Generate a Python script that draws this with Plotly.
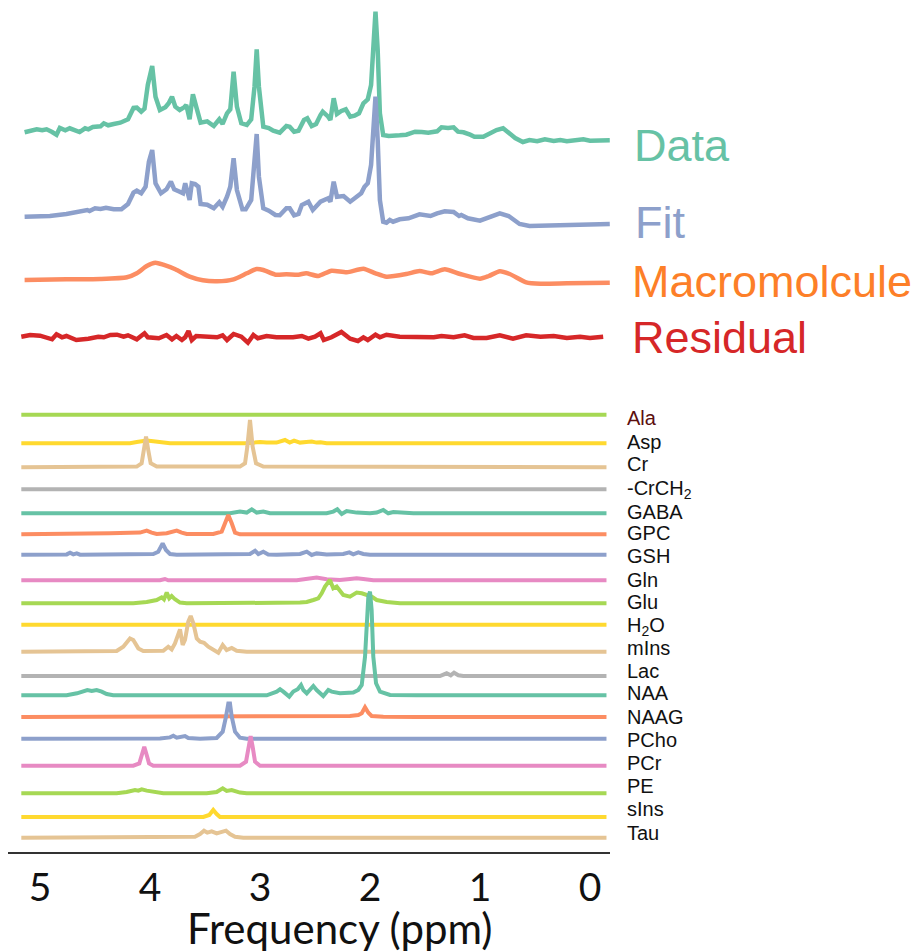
import plotly.graph_objects as go

# ---------------- data (ppm, amplitude above each trace's baseline) ----------------
data_ppm = [5.14, 5.08, 5.03, 4.98, 4.94, 4.89, 4.85, 4.82, 4.77, 4.73, 4.68, 4.64, 4.59, 4.56, 4.52, 4.45,
            4.42, 4.38, 4.33, 4.27, 4.20, 4.15, 4.12, 4.08, 4.05, 4.02, 3.98, 3.95, 3.91, 3.86, 3.83, 3.80,
            3.77, 3.73, 3.69, 3.67, 3.64, 3.61, 3.58, 3.54, 3.48, 3.42, 3.37, 3.34, 3.30, 3.27, 3.24, 3.21,
            3.17, 3.12, 3.08, 3.05, 3.03, 3.01, 2.97, 2.92, 2.88, 2.82, 2.76, 2.73, 2.69, 2.65, 2.60, 2.57,
            2.53, 2.49, 2.45, 2.43, 2.38, 2.36, 2.33, 2.30, 2.26, 2.22, 2.18, 2.14, 2.10, 2.06, 2.02, 1.99,
            1.95, 1.93, 1.91, 1.88, 1.83, 1.79, 1.73, 1.67, 1.59, 1.53, 1.47, 1.39, 1.35, 1.29, 1.24, 1.20,
            1.15, 1.09, 1.05, 0.97, 0.91, 0.85, 0.79, 0.76, 0.68, 0.61, 0.55, 0.48, 0.41, 0.33, 0.27, 0.21,
            0.14, 0.06, 0.00, -0.09, -0.18]
data_amp = [7.7, 9.3, 10.7, 9.7, 10.7, 8.0, 5.3, 12.0, 9.7, 11.7, 9.0, 8.0, 11.7, 10.7, 13.0, 13.7,
            16.7, 14.7, 16.0, 17.3, 20.7, 32.0, 32.3, 28.3, 31.3, 55.0, 74.0, 43.3, 30.0, 32.7, 36.7, 43.3,
            33.3, 30.0, 32.7, 35.0, 20.7, 45.7, 33.3, 17.3, 18.7, 14.0, 20.7, 16.0, 26.7, 30.7, 68.3, 33.3,
            16.7, 15.0, 20.7, 53.3, 90.7, 53.3, 13.3, 12.0, 9.3, 7.3, 14.0, 13.3, 8.3, 9.3, 20.0, 21.7,
            14.0, 16.0, 25.0, 28.3, 23.3, 20.0, 41.7, 26.0, 29.0, 30.7, 23.3, 24.3, 26.7, 36.7, 40.7, 55.0,
            128.3, 90.0, 26.7, 5.0, 4.0, 4.7, 4.7, 5.3, 8.3, 8.0, 7.3, 8.7, 12.7, 12.0, 12.7, 8.3,
            7.7, 5.3, 3.3, 3.3, 7.3, 10.0, 11.7, 9.3, 2.0, -2.0, 0.0, -1.3, 0.7, -1.0, 0.0, -1.3,
            0.0, 0.7, -0.7, 0.0, -0.3]

fit_ppm = [5.14, 4.91, 4.76, 4.64, 4.57, 4.55, 4.50, 4.45, 4.40, 4.33, 4.26, 4.20, 4.15, 4.12, 4.08, 4.04,
           4.01, 3.98, 3.95, 3.90, 3.85, 3.81, 3.78, 3.73, 3.70, 3.68, 3.66, 3.64, 3.62, 3.59, 3.56, 3.54,
           3.48, 3.42, 3.37, 3.34, 3.30, 3.27, 3.24, 3.21, 3.16, 3.13, 3.08, 3.06, 3.03, 3.01, 2.97, 2.92,
           2.86, 2.82, 2.76, 2.73, 2.69, 2.65, 2.62, 2.56, 2.52, 2.45, 2.38, 2.36, 2.33, 2.30, 2.24, 2.18,
           2.12, 2.08, 2.05, 2.02, 1.99, 1.95, 1.93, 1.91, 1.88, 1.85, 1.82, 1.79, 1.73, 1.65, 1.55, 1.45,
           1.39, 1.32, 1.24, 1.19, 1.17, 1.11, 1.00, 0.91, 0.82, 0.74, 0.64, 0.55, 0.33, 0.06, -0.18]
fit_amp = [7.3, 8.0, 10.0, 12.3, 14.0, 13.0, 15.7, 15.0, 16.3, 14.7, 14.7, 20.0, 31.3, 33.3, 30.7, 37.3,
           62.3, 74.0, 40.7, 30.7, 34.7, 42.3, 34.7, 32.3, 30.7, 40.7, 32.3, 24.0, 40.7, 40.0, 37.3, 20.0,
           19.3, 15.7, 21.7, 17.3, 27.3, 37.3, 65.7, 34.0, 14.7, 14.7, 24.0, 50.7, 90.0, 47.3, 15.7, 13.3,
           9.0, 8.7, 15.7, 15.7, 8.7, 10.0, 19.0, 22.3, 14.0, 22.3, 25.7, 22.3, 42.3, 27.3, 28.0, 22.3,
           28.0, 30.7, 37.3, 40.7, 59.0, 127.3, 84.0, 24.0, 2.3, 1.3, 4.0, 2.3, 4.7, 5.7, 9.7, 8.0,
           10.7, 12.7, 12.0, 8.0, 9.0, 5.7, 3.3, 6.7, 10.7, 8.0, 0.0, -2.0, -1.7, -0.3, 0.0]

mm_ppm = [5.14, 4.76, 4.45, 4.21, 4.12, 4.03, 3.95, 3.88, 3.77, 3.64, 3.52, 3.39, 3.24, 3.12, 3.03, 2.97,
          2.86, 2.76, 2.65, 2.58, 2.47, 2.35, 2.21, 2.06, 1.95, 1.85, 1.67, 1.55, 1.44, 1.32, 1.18, 1.00,
          0.92, 0.82, 0.73, 0.58, 0.45, 0.21, -0.18]
mm_amp = [3.0, 3.7, 4.0, 5.7, 9.7, 17.0, 20.3, 18.3, 13.7, 6.3, 2.7, 1.7, 3.7, 9.7, 14.0, 13.0,
          8.3, 8.7, 8.3, 9.7, 7.0, 12.3, 10.7, 14.3, 9.7, 6.3, 9.0, 12.0, 9.7, 13.7, 9.0, 4.3,
          7.0, 11.7, 9.0, 0.7, -0.7, -0.3, 0.3]

res_ppm = [5.17, 5.09, 5.00, 4.89, 4.85, 4.80, 4.76, 4.67, 4.56, 4.47, 4.42, 4.36, 4.30, 4.24, 4.20, 4.12,
           4.05, 4.02, 3.92, 3.85, 3.80, 3.76, 3.71, 3.68, 3.65, 3.62, 3.58, 3.48, 3.39, 3.34, 3.30, 3.24,
           3.17, 3.11, 3.06, 3.02, 2.94, 2.85, 2.76, 2.70, 2.62, 2.56, 2.50, 2.45, 2.42, 2.35, 2.26, 2.18,
           2.11, 2.06, 2.02, 1.95, 1.91, 1.85, 1.73, 1.58, 1.42, 1.35, 1.24, 1.14, 1.06, 0.94, 0.82, 0.70,
           0.58, 0.45, 0.33, 0.21, 0.09, 0.00, -0.12]
res_amp = [0.3, 2.0, 1.3, -2.3, 2.7, -0.3, 1.0, -3.0, -1.7, 0.3, -0.3, 2.0, 2.3, 0.3, 1.7, -2.3,
           3.7, -0.3, -1.3, 2.0, -2.3, 1.0, -3.0, -0.3, 6.0, -3.0, 1.0, 0.3, -0.3, 1.7, -3.0, 3.0,
           0.3, -5.7, 2.0, -1.3, 1.0, -0.3, -0.3, -0.3, 1.0, -1.7, 0.3, 3.7, -3.0, -0.3, 5.0, -1.7,
           -4.0, -0.3, -3.0, 2.3, -0.3, 2.3, 0.3, -0.3, -0.3, 1.0, -0.3, 1.7, -1.0, -1.0, 1.7, -1.7,
           1.7, 0.3, 1.0, -1.0, 0.3, -1.0, 0.3]

# ---------------- metabolite basis spectra ----------------
ala_ppm = [5.17, -0.15]
ala_amp = [0, 0]
asp_ppm = [5.17, 4.182, 4.12, 4.03, 3.970, 3.909, 3.818, 3.12, 3.00, 2.94, 2.85, 2.773, 2.73, 2.69, 2.636,
           2.58, 2.53, 2.485, 2.45, 2.394, -0.15]
asp_amp = [0, 0, 1.3, 2.7, 2.0, 1.0, 0, 0, 1.3, 0.7, 0.7, 3.3, 0.7, 2.7, 0.7,
           1.3, 1.7, 0.7, 1.0, 0, 0]
cr_ppm = [5.17, 4.121, 4.076, 4.055, 4.036, 4.016, 3.994, 3.939, 3.182, 3.136, 3.115, 3.091, 3.067, 3.036,
          2.970, -0.15]
cr_amp = [0, 0.7, 4.0, 17.3, 30.7, 17.3, 4.0, 0.7, 0.7, 4.0, 20.7, 47.3, 20.7, 4.0, 0.7, 0]
crch2_ppm = [5.17, -0.15]
crch2_amp = [0, 0]
gaba_ppm = [5.17, 3.273, 3.182, 3.121, 3.075, 3.030, 2.970, 2.909, 2.394, 2.334, 2.297, 2.257, 2.212, 2.121,
            2.000, 1.939, 1.879, 1.834, 1.788, 1.606, -0.15]
gaba_amp = [0, 0, 1.7, 0.7, 4.0, 0.7, 1.7, 0, 0, 1.7, 4.0, -0.7, 2.3, 0.7,
            0, 0.7, 3.3, 0, 1.3, 0, 0]
gpc_ppm = [5.17, 4.515, 4.364, 4.091, 4.030, 3.985, 3.939, 3.848, 3.757, 3.712, 3.666, 3.425, 3.348, 3.318,
           3.288, 3.257, 3.227, 3.182, -0.15]
gpc_amp = [0, 0.3, 1.0, 1.7, 3.7, 1.7, 0.3, 1.0, 3.7, 1.7, 0.3, 0.3, 2.7, 11.0,
           19.3, 11.0, 1.7, 0, 0]
gsh_ppm = [5.17, 4.909, 4.757, 4.727, 4.697, 4.666, 4.636, 3.970, 3.925, 3.885, 3.855, 3.818, 3.757, 3.091,
           3.045, 3.015, 2.970, 2.925, 2.848, 2.636, 2.575, 2.530, 2.485, 2.394, 2.243, 2.188, 2.152, 2.106,
           2.061, 2.000, -0.15]
gsh_amp = [0, 0.7, 0.3, 2.0, 0.3, 1.3, 0, 0.7, 3.0, 11.3, 4.7, 0.7, 0, 0.7,
           4.0, 0.7, 3.0, 0.3, 0, 0.7, 3.0, -0.3, 1.3, 0.3, 0.7, 2.3, 0.3, 2.3,
           0.7, 0, 0]
gln_ppm = [5.17, 3.909, 3.864, 3.834, 2.666, 2.545, 2.485, 2.394, 2.273, 2.182, 2.121, 2.061, 1.970, -0.15]
gln_amp = [0, 0, 1.3, 0, 0, 1.3, 2.7, 1.0, 0.3, 1.3, 2.0, 1.3, 0, 0]
glu_ppm = [5.17, 4.152, 4.030, 3.939, 3.894, 3.873, 3.848, 3.825, 3.803, 3.773, 3.727, 3.666, 2.636, 2.575,
           2.515, 2.470, 2.439, 2.409, 2.364, 2.334, 2.303, 2.243, 2.182, 2.121, 2.075, 2.015, 1.985, 1.939,
           1.848, 1.727, -0.15]
glu_amp = [0, 0, 1.3, 3.3, 6.0, 4.0, 10.7, 5.0, 7.3, 4.0, 0.7, 0, 0.7, 1.3,
           3.3, 5.0, 10.0, 16.7, 23.3, 15.0, 16.7, 8.3, 6.7, 10.7, 10.0, 8.3, 6.7, 3.3,
           1.3, 0, 0]
h2o_ppm = [5.17, -0.15]
h2o_amp = [0, 0]
mins_ppm = [5.17, 4.303, 4.243, 4.182, 4.152, 4.106, 4.061, 3.879, 3.834, 3.803, 3.773, 3.727, 3.703, 3.682,
            3.652, 3.630, 3.606, 3.575, 3.545, 3.509, 3.470, 3.425, 3.379, 3.339, 3.303, 3.257, 3.212, 3.121,
            -0.15]
mins_amp = [0, 0.7, 5.0, 13.3, 11.7, 3.3, 0.7, 1.0, 5.0, 2.3, 8.3, 22.3, 6.7, 11.7,
            30.0, 35.7, 28.3, 13.3, 10.0, 9.0, 5.0, 2.3, -1.0, 6.7, 1.7, 3.7, 1.0, 0,
            0]
lac_ppm = [5.17, 1.364, 1.303, 1.266, 1.236, 1.197, 1.152, -0.15]
lac_amp = [0, 0, 2.7, 0.7, 3.3, 0.7, 0, 0]
naa_ppm = [5.17, 4.758, 4.664, 4.606, 4.570, 4.530, 4.485, 4.439, 4.394, 4.334, 2.939, 2.848, 2.818, 2.788,
           2.757, 2.734, 2.697, 2.657, 2.627, 2.606, 2.575, 2.545, 2.515, 2.485, 2.455, 2.425, 2.379, 2.348,
           2.273, 2.152, 2.106, 2.075, 2.045, 2.030, 2.015, 2.000, 1.985, 1.970, 1.945, 1.909, 1.818, 1.575,
           -0.15]
naa_amp = [0, 0, 2.0, 3.7, 5.3, 4.3, 5.3, 3.7, 1.3, 0, 0, 3.7, 6.0, 3.7,
           0.3, -1.3, 3.7, 6.0, 10.3, 5.3, 2.0, 5.3, 9.3, 5.3, 2.7, -0.7, 5.3, 3.7,
           2.0, 2.7, 5.3, 10.3, 38.7, 72.0, 98.7, 103.7, 85.3, 38.7, 12.0, 3.7, 0.3, 0,
           0]
naag_ppm = [5.17, 2.334, 2.182, 2.106, 2.075, 2.045, 2.015, 1.985, 1.879, 1.575, -0.15]
naag_amp = [0, 0.3, 1.0, 2.0, 3.7, 9.7, 4.3, 1.0, 0.3, 0, 0]
pcho_ppm = [5.17, 4.606, 4.455, 4.303, 4.152, 3.909, 3.818, 3.788, 3.757, 3.712, 3.682, 3.652, 3.545, 3.394,
            3.339, 3.309, 3.288, 3.273, 3.257, 3.227, 3.182, 3.121, -0.15]
pcho_amp = [0, 0, 1.0, 0.7, 0, 0.3, 1.3, 3.0, 1.0, 2.0, 2.7, 0.7, 0, 0.7,
            7.0, 22.0, 35.3, 35.3, 22.0, 7.0, 1.0, 0, 0]
pcr_ppm = [5.17, 4.152, 4.097, 4.075, 4.052, 4.030, 4.009, 3.970, 3.182, 3.127, 3.106, 3.085, 3.067, 3.045,
           3.000, -0.15]
pcr_amp = [0, 0, 2.3, 10.7, 19.0, 10.7, 2.3, 0, 0, 4.0, 19.0, 29.7, 19.0, 4.0, 0, 0]
pe_ppm = [5.17, 4.303, 4.212, 4.136, 4.106, 4.075, 4.030, 3.970, 3.879, 3.485, 3.394, 3.339, 3.303, 3.257,
          3.227, 3.182, 3.121, -0.15]
pe_amp = [0, 0, 1.3, 3.3, 2.7, 4.0, 2.7, 1.3, 0, 0, 1.3, 5.0, 2.3, 3.3,
          2.0, 0.7, 0, 0]
sins_ppm = [5.17, 3.515, 3.461, 3.425, 3.394, 3.364, -0.15]
sins_amp = [0, 0, 2.0, 7.0, 3.0, 0, 0]
tau_ppm = [5.17, 3.666, 3.591, 3.545, 3.509, 3.479, 3.439, 3.394, 3.348, 3.309, 3.273, 3.227, 3.152, -0.15]
tau_amp = [0, 0, 1.0, 3.7, 7.0, 5.0, 6.3, 4.3, 6.3, 7.0, 3.7, 1.0, 0, 0]

top_names = ["Data", "Fit", "Macromolcule", "Residual"]
met_names = ["Ala", "Asp", "Cr", "-CrCH<sub>2</sub>", "GABA", "GPC", "GSH", "Gln", "Glu", "H<sub>2</sub>O",
             "mIns", "Lac", "NAA", "NAAG", "PCho", "PCr", "PE", "sIns", "Tau"]
x_ticks = [5, 4, 3, 2, 1, 0]
x_title = "Frequency (ppm)"

# ---------------- layout / style (not data) ----------------
top_series = [(data_ppm, data_amp), (fit_ppm, fit_amp), (mm_ppm, mm_amp), (res_ppm, res_amp)]
met_series = [(ala_ppm, ala_amp), (asp_ppm, asp_amp), (cr_ppm, cr_amp), (crch2_ppm, crch2_amp),
              (gaba_ppm, gaba_amp), (gpc_ppm, gpc_amp), (gsh_ppm, gsh_amp), (gln_ppm, gln_amp),
              (glu_ppm, glu_amp), (h2o_ppm, h2o_amp), (mins_ppm, mins_amp), (lac_ppm, lac_amp),
              (naa_ppm, naa_amp), (naag_ppm, naag_amp), (pcho_ppm, pcho_amp), (pcr_ppm, pcr_amp),
              (pe_ppm, pe_amp), (sins_ppm, sins_amp), (tau_ppm, tau_amp)]

top_base = [140, 224, 283, 337]
top_line_colors = ["#66c2a5", "#8da0cb", "#fc8d62", "#d62728"]
top_text_colors = ["#66c2a5", "#8da0cb", "#fd7f28", "#d62728"]
top_shapes = ["linear", "linear", "spline", "linear"]
top_label_y = [145, 222, 281, 337]
top_label_x = [632, 633, 630, 630]

met_base = [414.7, 443.3, 467.3, 489.3, 513.3, 534.3, 554.7, 580.3, 603.3, 624.7,
            651.7, 676, 695.3, 717, 738.7, 765.7, 793.3, 817, 837.7]
set2 = ["#a6d854", "#ffd92f", "#e5c494", "#b3b3b3", "#66c2a5", "#fc8d62", "#8da0cb", "#e78ac3"]
met_colors = [set2[i % 8] for i in range(19)]
met_label_y = [418, 441.5, 464, 489, 511.5, 533, 556, 579.5, 602, 626,
               648, 670.5, 693, 716.5, 740, 763, 786, 809, 833]

PLOT_L, PLOT_R, PLOT_B = 8, 610, 852
W, H = 916, 951

fig = go.Figure()
for (px, amp), b, c, sh in zip(top_series, top_base, top_line_colors, top_shapes):
    fig.add_trace(go.Scatter(x=px, y=[-b + a for a in amp], mode="lines",
                             line=dict(color=c, width=4.5, shape=sh, smoothing=0.6),
                             hoverinfo="skip", showlegend=False))
for (px, amp), b, c in zip(met_series, met_base, met_colors):
    fig.add_trace(go.Scatter(x=px, y=[-b + a for a in amp], mode="lines",
                             line=dict(color=c, width=4), hoverinfo="skip", showlegend=False))


def paper_x(px):
    return (px - PLOT_L) / (PLOT_R - PLOT_L)


def paper_y(py):
    return (PLOT_B - py) / PLOT_B


annotations = []
for name, yy, xx, c in zip(top_names, top_label_y, top_label_x, top_text_colors):
    annotations.append(dict(text=name, x=paper_x(xx), xref="paper", y=-yy, yref="y",
                            xanchor="left", yanchor="middle", showarrow=False,
                            font=dict(family="Liberation Sans, Arial, sans-serif", size=45, color=c)))
for i, (name, yy) in enumerate(zip(met_names, met_label_y)):
    annotations.append(dict(text=name, x=paper_x(625), xref="paper", y=-yy, yref="y",
                            xanchor="left", yanchor="middle", showarrow=False,
                            font=dict(family="Liberation Sans, Arial, sans-serif", size=20,
                                      color="#5c0f0f" if i == 0 else "#111111")))
annotations.append(dict(text=x_title, x=paper_x(340), xref="paper", y=paper_y(928), yref="paper",
                        xanchor="center", yanchor="middle", showarrow=False,
                        font=dict(family="Lato, Carlito, sans-serif", size=42, color="#111111")))

fig.update_layout(
    width=W, height=H,
    margin=dict(l=PLOT_L, r=W - PLOT_R, t=0, b=H - PLOT_B, pad=0),
    paper_bgcolor="white", plot_bgcolor="white",
    annotations=annotations,
    xaxis=dict(range=[5.291, -0.182], tickvals=x_ticks, ticktext=[str(t) for t in x_ticks],
               showgrid=False, zeroline=False, showline=True, linecolor="#333333", linewidth=2,
               ticks="", tickfont=dict(family="Lato, Carlito, sans-serif", size=39, color="#111111")),
    yaxis=dict(range=[-PLOT_B, 0], visible=False, showgrid=False, zeroline=False),
)

fig.write_html("out.html", config={"displayModeBar": False},
               post_script="document.body.style.margin='0';document.body.style.overflow='hidden';")
